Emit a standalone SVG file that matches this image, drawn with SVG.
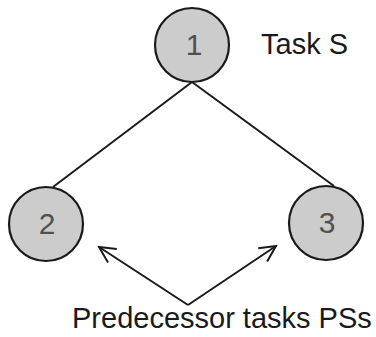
<svg xmlns="http://www.w3.org/2000/svg" width="376" height="337" viewBox="0 0 376 337">
  <style>
    .node circle { fill: #cccccc; stroke: #1a1a1a; stroke-width: 2.2; }
    .node text { font-family: "Liberation Sans", Arial, sans-serif; font-size: 30px; fill: #505050; text-anchor: middle; }
    .edge { stroke: #1a1a1a; stroke-width: 2; fill: none; }
    .label { font-family: "Liberation Sans", Arial, sans-serif; font-size: 29px; fill: #1a1a1a; }
  </style>
  <defs>
    <marker id="open" viewBox="0 0 20 20" refX="18" refY="10" markerWidth="20" markerHeight="20" markerUnits="userSpaceOnUse" orient="auto">
      <path d="M2,2 L18,10 L2,18" fill="none" stroke="#1a1a1a" stroke-width="2"/>
    </marker>
  </defs>

  <g id="connectors">
    <line class="edge" x1="192" y1="82" x2="53" y2="187"/>
    <line class="edge" x1="192" y1="82" x2="334" y2="186"/>
    <line class="edge" x1="188" y1="305" x2="99" y2="247" marker-end="url(#open)"/>
    <line class="edge" x1="188" y1="305" x2="276" y2="246" marker-end="url(#open)"/>
  </g>

  <g id="node1" class="node">
    <circle cx="192" cy="45" r="37"/>
    <text x="194" y="55">1</text>
  </g>
  <g id="node2" class="node">
    <circle cx="46" cy="224" r="37"/>
    <text x="47" y="234">2</text>
  </g>
  <g id="node3" class="node">
    <circle cx="326" cy="223" r="37"/>
    <text x="327" y="233">3</text>
  </g>

  <text class="label" x="261" y="54">Task S</text>
  <text class="label" x="72" y="328">Predecessor tasks PSs</text>
</svg>
